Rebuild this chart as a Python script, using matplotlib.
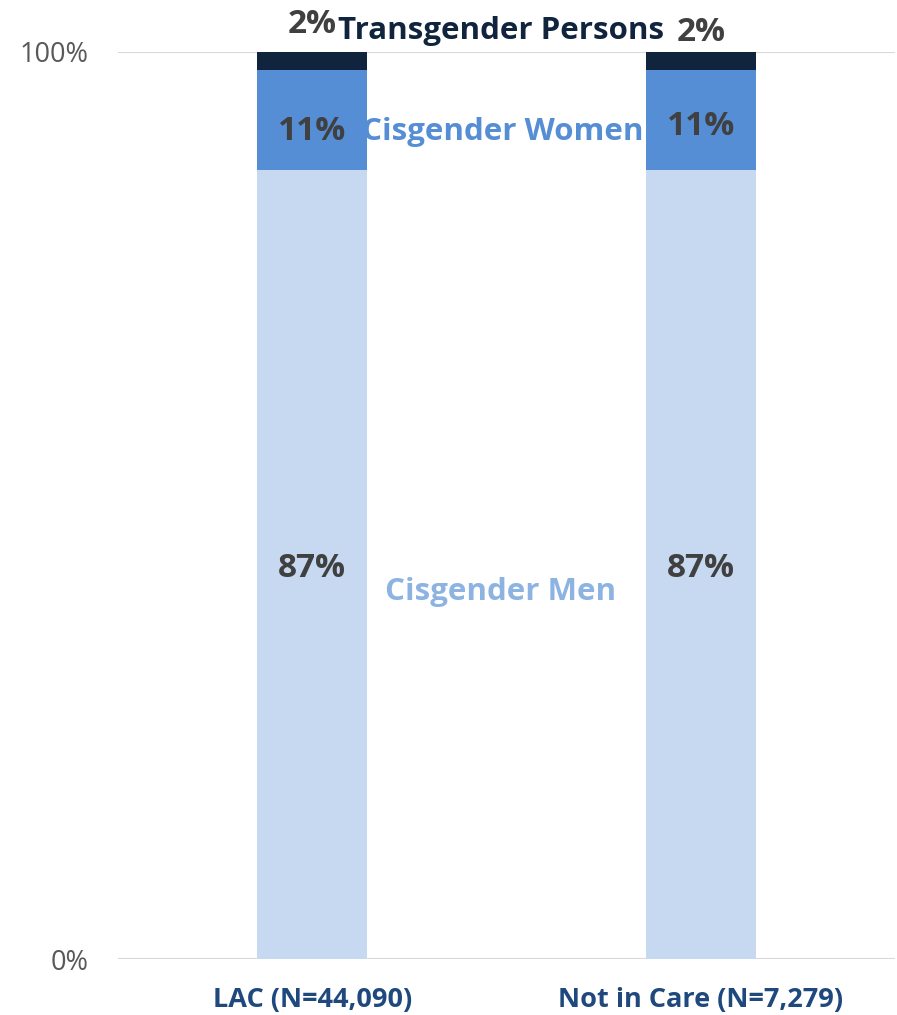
import matplotlib
matplotlib.use("Agg")
import matplotlib.pyplot as plt

plt.rcParams['font.family'] = ["Open Sans", "DejaVu Sans"]

categories = ["LAC (N=44,090)", "Not in Care (N=7,279)"]
series_names = ["Cisgender Men", "Cisgender Women", "Transgender Persons"]
men = [87, 87]
women = [11, 11]
trans = [2, 2]
series = [men, women, trans]
bar_colors = ["#c6d9f0", "#558ed5", "#10243e"]
name_colors = ["#8db3e2", "#558ed5", "#10243e"]
yticks = [0, 100]
ytick_labels = ["0%", "100%"]

fig = plt.figure(figsize=(8.97, 10.15), dpi=100)
W, H = 897, 1015
ax = fig.add_axes([118 / W, 1 - 959 / H, (895 - 118) / W, (959 - 52) / H])

x = list(range(len(categories)))
bottom = [0] * len(categories)
for vals, col in zip(series, bar_colors):
    ax.bar(x, vals, width=0.283, bottom=bottom, color=col, edgecolor="none", zorder=2)
    bottom = [b + v for b, v in zip(bottom, vals)]

ax.set_xlim(-0.5, 1.5)
ax.set_ylim(0, 100)
ax.set_yticks(yticks)
ax.set_yticklabels(ytick_labels)
ax.yaxis.grid(True, color="#d9d9d9", linewidth=1.5, zorder=0)
ax.set_axisbelow(True)
for s in ax.spines.values():
    s.set_visible(False)
ax.tick_params(axis="y", length=0, labelsize=19.5, labelcolor="#595959", pad=21)
ax.set_xticks(x)
ax.set_xticklabels(categories, fontsize=19.5, fontweight="bold", color="#1f497d")
ax.tick_params(axis="x", length=0, pad=20)

# value labels
lab_kw = dict(ha="center", va="center", fontsize=24, fontweight="bold", color="#404040", clip_on=False)
ax.text(0, 43.0, f"{men[0]}%", **lab_kw)
ax.text(1, 43.0, f"{men[1]}%", **lab_kw)
ax.text(0, 91.2, f"{women[0]}%", **lab_kw)
ax.text(1, 91.8, f"{women[1]}%", **lab_kw)
ax.text(0.0, 103.0, f"{trans[0]}%", **lab_kw)
ax.text(1.0, 102.1, f"{trans[1]}%", **lab_kw)

# series names
name_kw = dict(ha="center", va="center", fontsize=22.5, fontweight="bold", clip_on=False)
ax.text(0.485, 40.5, series_names[0], color=name_colors[0], **name_kw)
ax.text(0.49, 91.2, series_names[1], color=name_colors[1], **name_kw)
ax.text(0.487, 102.3, series_names[2], color=name_colors[2], **name_kw)

fig.savefig("out.png", dpi=100)
